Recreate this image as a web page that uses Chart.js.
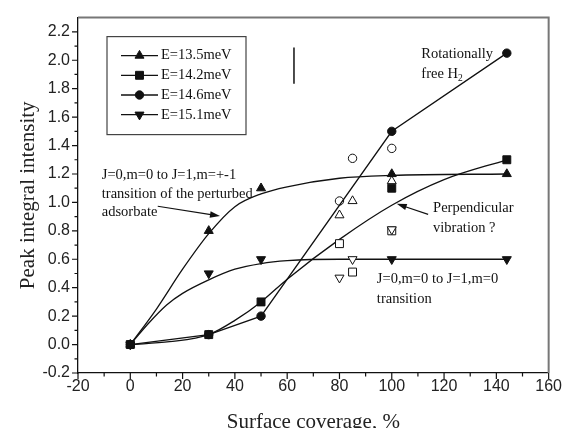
<!DOCTYPE html>
<html>
<head>
<meta charset="utf-8">
<script src="https://cdn.jsdelivr.net/npm/chart.js@4.4.1/dist/chart.umd.min.js"></script>
<style>
html, body { margin: 0; padding: 0; background: #fff; }
#wrap { width: 566px; height: 428px; }
</style>
</head>
<body>
<div id="wrap"><canvas id="myChart"></canvas></div>
<script>
// measured points (filled symbols)
const coverage = [0, 30, 50, 100, 144];
const e135 = [0, 0.8, 1.1, 1.2, 1.2];
const e142 = [0, 0.07, 0.3, 1.1, 1.3];
const e146 = [0, 0.07, 0.2, 1.5, 2.05];
const e151 = [0, 0.5, 0.6, 0.6, 0.6];

// open symbols
const openCoverage = [80, 85, 100];
const open135 = [0.91, 1.01, 1.15];
const open142 = [0.71, 0.51, 0.8];
const open146 = [1.01, 1.31, 1.38];
const open151 = [0.47, 0.6, 0.81];

// fitted curves
const fit135X = [0, 10, 20, 30, 40, 50, 60, 80, 100, 144];
const fit135Y = [0, 0.25, 0.53, 0.78, 0.97, 1.06, 1.11, 1.17, 1.19, 1.2];
const fit142X = [0, 15, 30, 40, 50, 60, 80, 100, 120, 144];
const fit142Y = [0, 0.02, 0.07, 0.17, 0.3, 0.46, 0.74, 0.98, 1.16, 1.3];
const fit151X = [0, 7, 14, 20, 30, 40, 50, 60, 80, 100, 144];
const fit151Y = [0, 0.15, 0.28, 0.36, 0.455, 0.53, 0.57, 0.59, 0.6, 0.6, 0.6];

const seriesLabels = ['E=13.5meV', 'E=14.2meV', 'E=14.6meV', 'E=15.1meV'];
const xRange = [-20, 160];
const yRange = [-0.2, 2.3];
const yTopTick = 2.2;

const notes = [
    { x: -10.9, y: 1.19, text: 'J=0,m=0 to J=1,m=+-1' },
    { x: -10.9, y: 1.06, text: 'transition of the perturbed' },
    { x: -10.9, y: 0.93, text: 'adsorbate' },
    { x: 111.3, y: 2.045, text: 'Rotationally' },
    { x: 111.3, y: 1.905, text: 'free H', sub: '2' },
    { x: 115.8, y: 0.962, text: 'Perpendicular' },
    { x: 115.8, y: 0.822, text: 'vibration ?' },
    { x: 94.3, y: 0.46, text: 'J=0,m=0 to J=1,m=0' },
    { x: 94.3, y: 0.32, text: 'transition' }
];
const arrows = [
    { from: [10.5, 0.973], to: [34.3, 0.904] },
    { from: [113.9, 0.916], to: [101.9, 0.99] }
];
const marks = [{ x: 62.6, y1: 1.835, y2: 2.09 }];

const SERIF = '"Liberation Serif", "Times New Roman", serif';
const SANS = '"Liberation Sans", Arial, sans-serif';

function toXY(xs, ys) {
    return xs.map((x, i) => ({ x: x, y: ys[i] }));
}

const styles = [
    { pointStyle: 'triangle', radius: 5.2, rotation: 0 },
    { pointStyle: 'rect', radius: 5.6, rotation: 0 },
    { pointStyle: 'circle', radius: 4.2, rotation: 0 },
    { pointStyle: 'triangle', radius: 5.2, rotation: 180 }
];

function markerSet(label, xs, ys, st, open) {
    return {
        label: label,
        data: toXY(xs, ys),
        showLine: false,
        pointStyle: st.pointStyle,
        pointRadius: st.radius,
        pointRotation: st.rotation,
        pointBackgroundColor: open ? '#fff' : '#111',
        pointBorderColor: '#111',
        pointBorderWidth: 1
    };
}

function curveSet(xs, ys) {
    return {
        data: toXY(xs, ys),
        showLine: true,
        borderColor: '#111',
        borderWidth: 1.3,
        pointRadius: 0,
        fill: false,
        cubicInterpolationMode: 'monotone'
    };
}

const circleLine = markerSet(seriesLabels[2], coverage, e146, styles[2], false);
circleLine.showLine = true;
circleLine.borderColor = '#111';
circleLine.borderWidth = 1.3;
circleLine.tension = 0;

// first dataset ends up on top
const datasets = [
    markerSet(seriesLabels[0], coverage, e135, styles[0], false),
    markerSet(seriesLabels[1], coverage, e142, styles[1], false),
    circleLine,
    markerSet(seriesLabels[3], coverage, e151, styles[3], false),
    markerSet('open 15.1', openCoverage, open151, styles[3], true),
    markerSet('open 13.5', openCoverage, open135, styles[0], true),
    markerSet('open 14.2', openCoverage, open142, styles[1], true),
    markerSet('open 14.6', openCoverage, open146, styles[2], true),
    curveSet(fit135X, fit135Y),
    curveSet(fit142X, fit142Y),
    curveSet(fit151X, fit151Y)
];

function drawMarker(ctx, st, x, y, filled) {
    const r = st.radius;
    ctx.save();
    ctx.translate(x, y);
    ctx.rotate(st.rotation * Math.PI / 180);
    ctx.beginPath();
    if (st.pointStyle === 'triangle') {
        ctx.moveTo(0, -r);
        ctx.lineTo(r * 0.866, r * 0.5);
        ctx.lineTo(-r * 0.866, r * 0.5);
        ctx.closePath();
    } else if (st.pointStyle === 'rect') {
        const s = r * Math.SQRT1_2;
        ctx.rect(-s, -s, 2 * s, 2 * s);
    } else {
        ctx.arc(0, 0, r, 0, Math.PI * 2);
    }
    ctx.fillStyle = filled ? '#111' : '#fff';
    ctx.fill();
    ctx.lineWidth = 1;
    ctx.strokeStyle = '#111';
    ctx.stroke();
    ctx.restore();
}

const framePlugin = {
    id: 'frame',
    afterDraw(chart) {
        const ctx = chart.ctx;
        const a = chart.chartArea;
        const xs = chart.scales.x, ys = chart.scales.y;
        ctx.save();
        // top and right frame
        ctx.strokeStyle = '#777';
        ctx.lineWidth = 2;
        ctx.beginPath();
        ctx.moveTo(a.left, a.top);
        ctx.lineTo(a.right, a.top);
        ctx.lineTo(a.right, a.bottom);
        ctx.stroke();
        // ticks, major and minor
        ctx.strokeStyle = '#111';
        ctx.lineWidth = 1.2;
        ctx.beginPath();
        xs.ticks.forEach((t, i) => {
            const px = xs.getPixelForValue(t.value);
            ctx.moveTo(px, a.bottom);
            ctx.lineTo(px, a.bottom + 6);
            if (i < xs.ticks.length - 1) {
                const mx = xs.getPixelForValue((t.value + xs.ticks[i + 1].value) / 2);
                ctx.moveTo(mx, a.bottom);
                ctx.lineTo(mx, a.bottom + 3.5);
            }
        });
        ys.ticks.forEach((t, i) => {
            const py = ys.getPixelForValue(t.value);
            ctx.moveTo(a.left, py);
            ctx.lineTo(a.left - 6, py);
            if (i < ys.ticks.length - 1) {
                const my = ys.getPixelForValue((t.value + ys.ticks[i + 1].value) / 2);
                ctx.moveTo(a.left, my);
                ctx.lineTo(a.left - 3.5, my);
            }
        });
        ctx.stroke();

        // legend box
        const bx = a.left + 29, by = a.top + 19, bw = 139, bh = 98;
        ctx.strokeStyle = '#444';
        ctx.lineWidth = 1.2;
        ctx.strokeRect(bx, by, bw, bh);
        ctx.font = '14.5px ' + SERIF;
        ctx.fillStyle = '#111';
        ctx.textBaseline = 'middle';
        ctx.textAlign = 'left';
        seriesLabels.forEach((lab, i) => {
            const ly = by + 19 + i * 19.7;
            ctx.strokeStyle = '#111';
            ctx.lineWidth = 1.3;
            ctx.beginPath();
            ctx.moveTo(bx + 14, ly);
            ctx.lineTo(bx + 51, ly);
            ctx.stroke();
            drawMarker(ctx, styles[i], bx + 32.5, ly, true);
            ctx.fillStyle = '#111';
            ctx.fillText(lab, bx + 54, ly);
        });

        // annotations
        ctx.fillStyle = '#111';
        notes.forEach(n => {
            const px = xs.getPixelForValue(n.x), py = ys.getPixelForValue(n.y);
            ctx.font = '14.5px ' + SERIF;
            ctx.fillText(n.text, px, py);
            if (n.sub) {
                const w = ctx.measureText(n.text).width;
                ctx.font = '9.5px ' + SERIF;
                ctx.fillText(n.sub, px + w, py + 5);
            }
        });
        ctx.strokeStyle = '#111';
        ctx.lineWidth = 1.2;
        arrows.forEach(ar => {
            const x1 = xs.getPixelForValue(ar.from[0]), y1 = ys.getPixelForValue(ar.from[1]);
            const x2 = xs.getPixelForValue(ar.to[0]), y2 = ys.getPixelForValue(ar.to[1]);
            const ang = Math.atan2(y2 - y1, x2 - x1);
            ctx.beginPath();
            ctx.moveTo(x1, y1);
            ctx.lineTo(x2 - 6 * Math.cos(ang), y2 - 6 * Math.sin(ang));
            ctx.stroke();
            ctx.beginPath();
            ctx.moveTo(x2, y2);
            ctx.lineTo(x2 - 10 * Math.cos(ang) + 3.2 * Math.sin(ang), y2 - 10 * Math.sin(ang) - 3.2 * Math.cos(ang));
            ctx.lineTo(x2 - 10 * Math.cos(ang) - 3.2 * Math.sin(ang), y2 - 10 * Math.sin(ang) + 3.2 * Math.cos(ang));
            ctx.closePath();
            ctx.fill();
        });
        ctx.lineWidth = 1.5;
        marks.forEach(m => {
            const px = xs.getPixelForValue(m.x);
            ctx.beginPath();
            ctx.moveTo(px, ys.getPixelForValue(m.y1));
            ctx.lineTo(px, ys.getPixelForValue(m.y2));
            ctx.stroke();
        });
        ctx.restore();
    }
};

const ctx = document.getElementById('myChart');
new Chart(ctx, {
    type: 'scatter',
    data: { datasets: datasets },
    plugins: [framePlugin],
    options: {
        responsive: true,
        maintainAspectRatio: false,
        animation: false,
        events: [],
        layout: { padding: { top: 15, right: 15, left: 0, bottom: 0 } },
        scales: {
            x: {
                type: 'linear',
                min: xRange[0],
                max: xRange[1],
                ticks: {
                    stepSize: 20,
                    padding: 4,
                    color: '#222',
                    font: { family: SANS, size: 16 }
                },
                grid: { display: true, drawOnChartArea: false, drawTicks: false },
                border: { display: true, color: '#111', width: 1.3 },
                title: {
                    display: true,
                    text: 'Surface coverage, %',
                    color: '#222',
                    font: { family: SERIF, size: 21, lineHeight: 1 },
                    padding: { top: 0, bottom: -5 }
                },
                afterFit(scale) { scale.height = 55; }
            },
            y: {
                type: 'linear',
                min: yRange[0],
                max: yRange[1],
                ticks: {
                    stepSize: 0.2,
                    includeBounds: false,
                    padding: 8,
                    color: '#222',
                    font: { family: SANS, size: 16 },
                    callback: v => v.toFixed(1)
                },
                afterBuildTicks(scale) {
                    scale.ticks = scale.ticks.filter(t => t.value <= yTopTick + 1e-9);
                },
                grid: { display: true, drawOnChartArea: false, drawTicks: false },
                border: { display: true, color: '#111', width: 1.3 },
                title: {
                    display: true,
                    text: 'Peak integral intensity',
                    color: '#222',
                    font: { family: SERIF, size: 21, lineHeight: 1.2 },
                    padding: { top: 16, bottom: 0 }
                },
                afterFit(scale) { scale.width = 78; }
            }
        },
        plugins: {
            legend: { display: false },
            tooltip: { enabled: false }
        }
    }
});
</script>
</body>
</html>
